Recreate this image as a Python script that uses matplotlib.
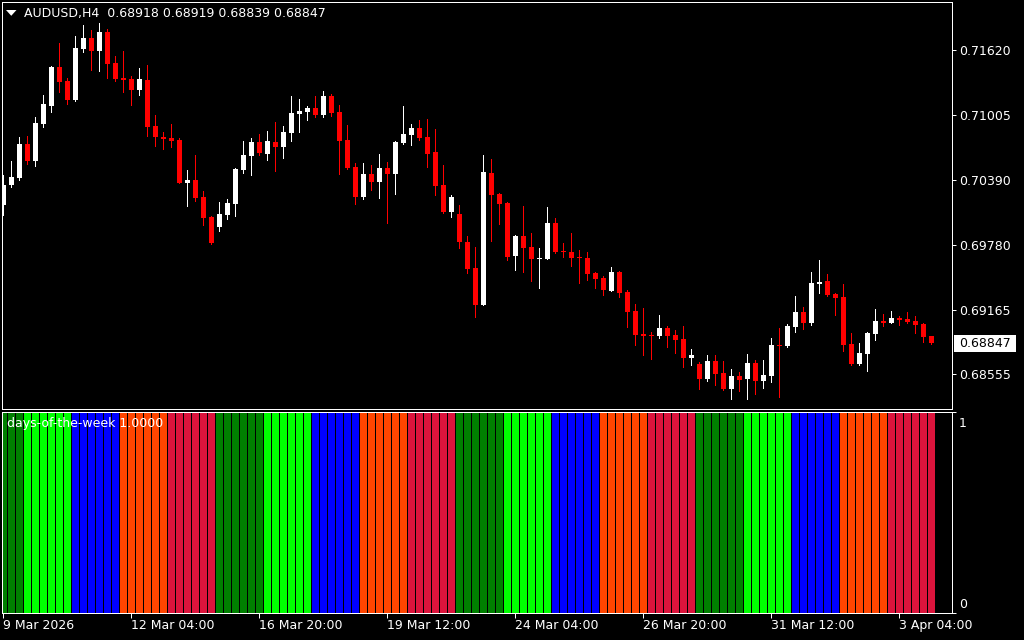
import matplotlib
matplotlib.use("Agg")
import matplotlib.pyplot as plt
from matplotlib.patches import Polygon, Rectangle
from matplotlib import transforms
import numpy as np

symbol = "AUDUSD"
timeframe = "H4"

open_ = [
    0.70154, 0.70343, 0.70409, 0.70731, 0.70570, 0.70920, 0.71090, 0.71459, 0.71327, 0.71147,
    0.71630, 0.71734, 0.71611, 0.71790, 0.71497, 0.71355, 0.71346, 0.71242, 0.71336, 0.70901,
    0.70797, 0.70788, 0.70769, 0.70365, 0.70390, 0.70229, 0.70040, 0.69946, 0.70059, 0.70163,
    0.70485, 0.70617, 0.70750, 0.70636, 0.70750, 0.70702, 0.70835, 0.71015, 0.71034, 0.71071,
    0.71005, 0.71185, 0.71034, 0.70769, 0.70513, 0.70229, 0.70447, 0.70371, 0.70504, 0.70447,
    0.70740, 0.70816, 0.70882, 0.70797, 0.70655, 0.70343, 0.70088, 0.70069, 0.69804, 0.69558,
    0.69208, 0.70456, 0.70258, 0.70173, 0.69671, 0.69860, 0.69756, 0.69643, 0.69643, 0.69983,
    0.69719, 0.69709, 0.69662, 0.69652, 0.69510, 0.69463, 0.69340, 0.69520, 0.69331, 0.69151,
    0.68933, 0.68924, 0.68914, 0.68990, 0.68924, 0.68886, 0.68706, 0.68650, 0.68508, 0.68678,
    0.68564, 0.68413, 0.68536, 0.68508, 0.68659, 0.68489, 0.68536, 0.68829, 0.68820, 0.69000,
    0.69141, 0.69037, 0.69406, 0.69435, 0.69312, 0.69283, 0.68839, 0.68650, 0.68744, 0.68933,
    0.69056, 0.69037, 0.69085, 0.69075, 0.69056, 0.69028, 0.68918]

high = [
    0.70438, 0.70570, 0.70797, 0.70806, 0.70986, 0.71194, 0.71469, 0.71686, 0.71355, 0.71752,
    0.71857, 0.71809, 0.71875, 0.71819, 0.71563, 0.71611, 0.71374, 0.71450, 0.71478, 0.71005,
    0.70844, 0.70920, 0.70788, 0.70485, 0.70627, 0.70286, 0.70050, 0.70182, 0.70210, 0.70504,
    0.70759, 0.70788, 0.70825, 0.70854, 0.70939, 0.70901, 0.71185, 0.71157, 0.71090, 0.71185,
    0.71232, 0.71204, 0.71100, 0.70911, 0.70551, 0.70551, 0.70532, 0.70636, 0.70560, 0.70759,
    0.71090, 0.70920, 0.70958, 0.70967, 0.70873, 0.70532, 0.70248, 0.70154, 0.69860, 0.69756,
    0.70627, 0.70589, 0.70267, 0.70182, 0.69870, 0.70144, 0.69889, 0.69747, 0.70135, 0.70031,
    0.69794, 0.69889, 0.69728, 0.69709, 0.69520, 0.69482, 0.69567, 0.69529, 0.69350, 0.69217,
    0.69179, 0.68952, 0.69113, 0.69009, 0.68971, 0.69009, 0.68791, 0.68668, 0.68735, 0.68735,
    0.68678, 0.68602, 0.68574, 0.68744, 0.68687, 0.68687, 0.68896, 0.68990, 0.69028, 0.69293,
    0.69189, 0.69520, 0.69633, 0.69501, 0.69321, 0.69406, 0.68943, 0.68848, 0.68952, 0.69170,
    0.69123, 0.69151, 0.69104, 0.69141, 0.69104, 0.69037, 0.68919]

low = [
    0.70059, 0.70324, 0.70390, 0.70542, 0.70523, 0.70892, 0.71034, 0.71223, 0.71109, 0.71138,
    0.71601, 0.71431, 0.71421, 0.71355, 0.71327, 0.71223, 0.71100, 0.71194, 0.70806, 0.70712,
    0.70683, 0.70702, 0.70362, 0.70144, 0.70192, 0.69965, 0.69785, 0.69908, 0.70021, 0.70050,
    0.70456, 0.70438, 0.70627, 0.70579, 0.70475, 0.70598, 0.70759, 0.70844, 0.70958, 0.70986,
    0.70986, 0.70996, 0.70447, 0.70494, 0.70163, 0.70210, 0.70296, 0.70220, 0.69983, 0.70258,
    0.70731, 0.70721, 0.70769, 0.70513, 0.70248, 0.70078, 0.70040, 0.69747, 0.69510, 0.69094,
    0.69208, 0.69813, 0.69974, 0.69633, 0.69539, 0.69520, 0.69435, 0.69369, 0.69643, 0.69700,
    0.69662, 0.69577, 0.69416, 0.69444, 0.69369, 0.69302, 0.69340, 0.69283, 0.69000, 0.68829,
    0.68735, 0.68697, 0.68896, 0.68810, 0.68754, 0.68621, 0.68640, 0.68413, 0.68489, 0.68451,
    0.68404, 0.68319, 0.68394, 0.68319, 0.68366, 0.68423, 0.68479, 0.68337, 0.68810, 0.68952,
    0.68981, 0.69018, 0.69321, 0.69293, 0.69113, 0.68772, 0.68640, 0.68640, 0.68583, 0.68877,
    0.69009, 0.69037, 0.69018, 0.69037, 0.68943, 0.68858, 0.68839]

close = [
    0.70343, 0.70421, 0.70731, 0.70570, 0.70929, 0.71109, 0.71459, 0.71317, 0.71147, 0.71639,
    0.71734, 0.71611, 0.71790, 0.71488, 0.71346, 0.71336, 0.71242, 0.71346, 0.70892, 0.70797,
    0.70778, 0.70759, 0.70362, 0.70390, 0.70220, 0.70031, 0.69794, 0.70069, 0.70173, 0.70494,
    0.70627, 0.70750, 0.70646, 0.70759, 0.70702, 0.70844, 0.71024, 0.71043, 0.71071, 0.71005,
    0.71185, 0.71024, 0.70759, 0.70504, 0.70229, 0.70447, 0.70371, 0.70504, 0.70447, 0.70750,
    0.70825, 0.70882, 0.70788, 0.70636, 0.70333, 0.70088, 0.70229, 0.69804, 0.69548, 0.69208,
    0.70466, 0.70248, 0.70163, 0.69662, 0.69860, 0.69747, 0.69643, 0.69652, 0.69983, 0.69709,
    0.69709, 0.69652, 0.69652, 0.69501, 0.69454, 0.69350, 0.69520, 0.69321, 0.69141, 0.68924,
    0.68914, 0.68914, 0.68990, 0.68914, 0.68877, 0.68706, 0.68735, 0.68508, 0.68678, 0.68555,
    0.68413, 0.68536, 0.68498, 0.68659, 0.68489, 0.68546, 0.68829, 0.68820, 0.69009, 0.69141,
    0.69037, 0.69416, 0.69425, 0.69302, 0.69274, 0.68829, 0.68650, 0.68754, 0.68943, 0.69056,
    0.69037, 0.69085, 0.69066, 0.69047, 0.69018, 0.68905, 0.68847]

# days-of-the-week indicator: trading sessions (day name, number of H4 bars shown)
session_days = ["Mon", "Tue", "Wed", "Thu", "Fri"] * 4
bars_per_session = [3] + [6] * 19
day_colors = {"Mon": "#008000", "Tue": "#00FF00", "Wed": "#0000FF",
              "Thu": "#FF4500", "Fri": "#DC143C"}
dow_value = 1.0

price_ticks = [0.71620, 0.71005, 0.70390, 0.69780, 0.69165, 0.68555]
time_tick_bars = [0, 16, 32, 48, 64, 80, 96, 112]
time_tick_labels = ["9 Mar 2026", "12 Mar 04:00", "16 Mar 20:00", "19 Mar 12:00",
                    "24 Mar 04:00", "26 Mar 20:00", "31 Mar 12:00", "3 Apr 04:00"]

# ------------------------------------------------------------------
W, H = 1024, 640
DPI = 100
PX = 72.0 / DPI  # points per pixel
fig = plt.figure(figsize=(W / DPI, H / DPI), dpi=DPI, facecolor="black")

ax = fig.add_axes([2 / W, 1 - 409 / H, 950 / W, 407 / H], facecolor="black")
axi = fig.add_axes([2 / W, 1 - 612.5 / H, 950 / W, 200.8 / H], facecolor="black")

o = np.array(open_)
h = np.array(high)
l = np.array(low)
c = np.array(close)
n = len(o)
x = np.arange(n)

xlim = (-0.1625, 118.59)

# candles
up = c >= o
cols = np.where(up, "#FFFFFF", "#FF0000")
ax.vlines(x, l, h, colors=cols, linewidth=1.0 * PX, antialiased=False, zorder=2)
min_body = 0.00011
body_bottom = np.minimum(o, c)
body_h = np.maximum(np.abs(c - o), min_body)
ax.bar(x, body_h, bottom=body_bottom, width=0.64, color=cols, linewidth=0,
       antialiased=False, zorder=3)

ax.set_xlim(*xlim)
ax.set_ylim(0.68224, 0.72074)
ax.set_xticks([])
ax.yaxis.tick_right()
ax.set_yticks(price_ticks)
ax.set_yticklabels([f"{p:.5f}" for p in price_ticks])
ax.tick_params(axis="y", colors="white", labelcolor="white", length=4 * PX,
               width=1.0 * PX, pad=3 * PX, labelsize=9)
for sp in ax.spines.values():
    sp.set_color("white")
    sp.set_linewidth(1.0 * PX)

# current price box
fig.canvas.draw()
yc_fig = ax.transData.transform((0, c[-1]))[1]
box = Rectangle((954, yc_fig - 8.5), 62, 17, transform=None, facecolor="white",
                edgecolor="white", linewidth=0, zorder=5)
fig.patches.append(box)
fig.text(959 / W, yc_fig / H, f"{c[-1]:.5f}", color="black", fontsize=9,
         ha="left", va="center", zorder=6)

# header
tri = Polygon([[6 / W, 1 - 10 / H], [16.5 / W, 1 - 10 / H], [11.25 / W, 1 - 15.8 / H]],
              closed=True, transform=fig.transFigure, facecolor="white", edgecolor="none")
fig.patches.append(tri)
fig.text(24 / W, 1 - 14 / H,
         f"{symbol},{timeframe}  {o[-1]:.5f} {h[-1]:.5f} {l[-1]:.5f} {c[-1]:.5f}",
         color="white", fontsize=9, ha="left", va="center")

# indicator
day_of_bar = []
for d, k in zip(session_days, bars_per_session):
    day_of_bar += [d] * k
bar_cols = [day_colors[d] for d in day_of_bar]
axi.bar(x, [dow_value] * n, width=0.875, color=bar_cols, linewidth=0, antialiased=False)
axi.set_xlim(*xlim)
axi.set_ylim(0, 1)
axi.yaxis.tick_right()
axi.set_yticks([0, 1])
axi.set_yticklabels(["", ""])
axi.tick_params(axis="y", colors="white", length=4 * PX, width=1.0 * PX)
axi.set_xticks(time_tick_bars)
axi.set_xticklabels(time_tick_labels)
axi.tick_params(axis="x", colors="white", labelcolor="white", length=4.5 * PX,
                width=1.0 * PX, pad=1.5, labelsize=9)
for lbl in axi.get_xticklabels():
    lbl.set_ha("left")
for sp in axi.spines.values():
    sp.set_color("white")
    sp.set_linewidth(1.0 * PX)

blend = transforms.blended_transform_factory(axi.transAxes, axi.transData)
axi.annotate("1", xy=(1, 1), xycoords=blend, xytext=(7 * PX, -5 * PX),
             textcoords="offset points", color="white", fontsize=9, ha="left", va="top")
axi.annotate("0", xy=(1, 0), xycoords=blend, xytext=(7 * PX, 2 * PX),
             textcoords="offset points", color="white", fontsize=9, ha="left", va="bottom")

fig.text(7 / W, 1 - 424 / H, f"days-of-the-week {dow_value:.4f}", color="white",
         fontsize=9, ha="left", va="center")

fig.savefig("out.png", dpi=DPI, facecolor="black")
